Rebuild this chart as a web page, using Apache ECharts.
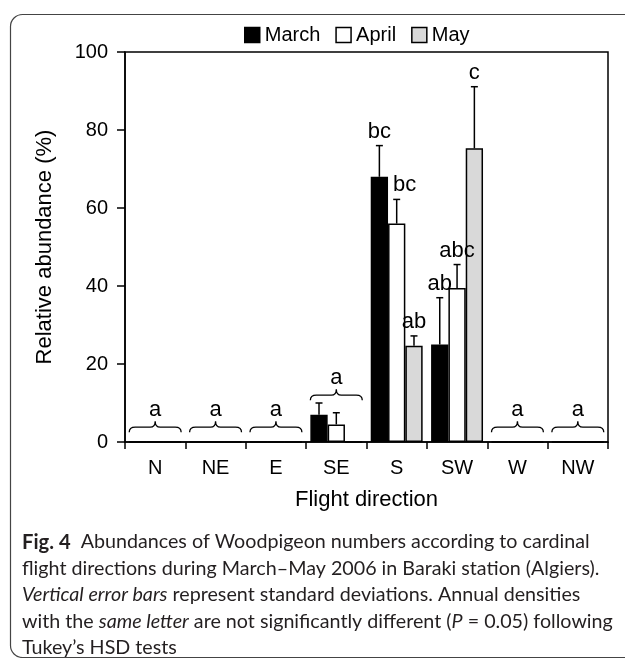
<!DOCTYPE html>
<html>
<head>
<meta charset="utf-8">
<script src="https://cdn.jsdelivr.net/npm/echarts@6/dist/echarts.min.js"></script>
<style>
html,body{margin:0;padding:0;background:#fff;}
#main{width:625px;height:658px;}
</style>
</head>
<body>
<div id="main"></div>
<script>
// ---- data ----
const categories = ['N', 'NE', 'E', 'SE', 'S', 'SW', 'W', 'NW'];
const seriesNames = ['March', 'April', 'May'];
const marchValues = [0, 0, 0, 7, 68, 25, 0, 0];
const aprilValues = [0, 0, 0, 4.5, 56, 39.5, 0, 0];
const mayValues = [0, 0, 0, 0, 24.7, 75.3, 0, 0];
const marchErr = [0, 0, 0, 3, 8, 12, 0, 0];
const aprilErr = [0, 0, 0, 3, 6.2, 6, 0, 0];
const mayErr = [0, 0, 0, 0, 2.5, 15.8, 0, 0];
const marchLetters = ['', '', '', '', 'bc', 'ab', '', ''];
const aprilLetters = ['', '', '', '', 'bc', 'abc', '', ''];
const mayLetters = ['', '', '', '', 'ab', 'c', '', ''];
const braceCategories = ['N', 'NE', 'E', 'SE', 'W', 'NW'];
const braceLevels = [3.8, 3.8, 3.8, 12, 3.8, 3.8];
const braceLetters = ['a', 'a', 'a', 'a', 'a', 'a'];
const yTicks = [0, 20, 40, 60, 80, 100];

// ---- styles ----
const FONT = '"Liberation Sans", Arial, sans-serif';
const CAPFONT = 'Lato, "Open Sans", sans-serif';
const fills = ['#000000', '#ffffff', '#d9d9d9'];
const CAT_GAP = 0.14;

const chart = echarts.init(document.getElementById('main'), null, {renderer: 'canvas'});

const values = [marchValues, aprilValues, mayValues];
const errs = [marchErr, aprilErr, mayErr];
const letters = [marchLetters, aprilLetters, mayLetters];

function errorSeries(si) {
  const data = categories.map((c, i) => [i, values[si][i], values[si][i] + errs[si][i]]);
  return {
    type: 'custom',
    name: seriesNames[si] + ' err',
    z: 5,
    silent: true,
    data: data,
    renderItem: function (params, api) {
      const idx = api.value(0);
      const v = api.value(1);
      const top = api.value(2);
      const letter = letters[si][idx];
      const catW = api.size([1, 0])[0];
      const barW = catW * (1 - CAT_GAP) / 3;
      const center = api.coord([idx, 0])[0] + (si - 1) * barW;
      const yBar = api.coord([idx, v])[1];
      const yTop = api.coord([idx, top])[1];
      const children = [];
      if (top > v) {
        children.push({type: 'line', shape: {x1: center, y1: yBar, x2: center, y2: yTop}, style: {stroke: '#000', lineWidth: 1.5}});
        children.push({type: 'line', shape: {x1: center - 3.5, y1: yTop, x2: center + 3.5, y2: yTop}, style: {stroke: '#000', lineWidth: 1.5}});
      }
      if (letter) {
        let dx = 0;
        if (si === 1 && idx === 4) dx = 8;
        children.push({type: 'text', style: {x: center + dx, y: yTop - 3, text: letter, fill: '#000', font: '22px ' + FONT, textAlign: 'center', textVerticalAlign: 'bottom'}});
      }
      return {type: 'group', children: children};
    }
  };
}

const braceSeries = {
  type: 'custom',
  name: 'braces',
  z: 5,
  silent: true,
  data: braceCategories.map((c, i) => [categories.indexOf(c), braceLevels[i]]),
  renderItem: function (params, api) {
    const idx = api.value(0);
    const lvl = api.value(1);
    const letter = braceLetters[params.dataIndex];
    const catW = api.size([1, 0])[0];
    const p = api.coord([idx, lvl]);
    const half = catW * 0.43;
    const x0 = p[0] - half, x1 = p[0] + half, y = p[1], xc = p[0];
    const d = 'M' + x0 + ' ' + (y + 5) +
      ' Q' + x0 + ' ' + y + ' ' + (x0 + 6) + ' ' + y +
      ' L' + (xc - 5) + ' ' + y +
      ' Q' + xc + ' ' + y + ' ' + xc + ' ' + (y - 6) +
      ' Q' + xc + ' ' + y + ' ' + (xc + 5) + ' ' + y +
      ' L' + (x1 - 6) + ' ' + y +
      ' Q' + x1 + ' ' + y + ' ' + x1 + ' ' + (y + 5);
    return {type: 'group', children: [
      {type: 'path', shape: {pathData: d}, style: {stroke: '#000', lineWidth: 1.3, fill: null}},
      {type: 'text', style: {x: xc, y: y - 6, text: letter, fill: '#000', font: '22px ' + FONT, textAlign: 'center', textVerticalAlign: 'bottom'}}
    ]};
  }
};

const barSeries = seriesNames.map((n, si) => ({
  type: 'bar',
  name: n,
  data: values[si],
  barGap: '0%',
  barCategoryGap: (CAT_GAP * 100) + '%',
  itemStyle: {color: fills[si], borderColor: '#000', borderWidth: 1.5},
  emphasis: {disabled: true}
}));

const CAPSIZE = 19.7;
const capStyle = {fontFamily: CAPFONT, fontSize: CAPSIZE, fill: '#231f20', verticalAlign: 'middle'};
const capRich = {
  b: {fontFamily: CAPFONT, fontSize: CAPSIZE + 0.5, fontWeight: 'bold', fill: '#231f20'},
  i: {fontFamily: CAPFONT, fontSize: CAPSIZE, fontStyle: 'italic', fill: '#231f20'}
};
const capLines = [
  '{b|Fig. 4}  Abundances of Woodpigeon numbers according to cardinal',
  'flight directions during March\u2013May 2006 in Baraki station (Algiers).',
  '{i|Vertical error bars} represent standard deviations. Annual densities',
  'with the {i|same letter} are not significantly different ({i|P} = 0.05) following',
  'Tukey\u2019s HSD tests'
];

const option = {
  animation: false,
  backgroundColor: '#fff',
  textStyle: {fontFamily: FONT},
  grid: {left: 125, right: 17, top: 52, bottom: 216, show: true, borderColor: '#000', borderWidth: 1.5, backgroundColor: 'transparent'},
  legend: {
    top: 25,
    left: 244,
    padding: 0,
    itemWidth: 15,
    itemHeight: 15,
    itemGap: 15,
    icon: 'rect',
    selectedMode: false,
    textStyle: {fontSize: 20, color: '#000', fontFamily: FONT},
    data: seriesNames.map((n, si) => ({name: n, itemStyle: {color: fills[si], borderColor: '#000', borderWidth: 1.5}}))
  },
  xAxis: {
    type: 'category',
    data: categories,
    name: 'Flight direction',
    nameLocation: 'middle',
    nameGap: 47,
    nameTextStyle: {fontSize: 22, color: '#000', fontFamily: FONT},
    axisLine: {lineStyle: {color: '#000', width: 1.5}},
    axisTick: {show: true, length: 7, lineStyle: {color: '#000', width: 1.5}, alignWithLabel: false},
    axisLabel: {fontSize: 20, color: '#000', margin: 16},
    splitLine: {show: false}
  },
  yAxis: {
    type: 'value',
    min: 0,
    max: 100,
    interval: 20,
    name: 'Relative abundance (%)',
    nameLocation: 'middle',
    nameGap: 69,
    nameRotate: 90,
    nameTextStyle: {fontSize: 22, color: '#000', fontFamily: FONT},
    axisLine: {show: true, lineStyle: {color: '#000', width: 1.5}},
    axisTick: {show: true, length: 8, inside: false, lineStyle: {color: '#000', width: 1.5}},
    axisLabel: {fontSize: 20, color: '#000', margin: 17, formatter: function (v) { return yTicks.indexOf(v) >= 0 ? String(v) : ''; }},
    splitLine: {show: false}
  },
  graphic: [
    {type: 'rect', left: 8, top: 12, shape: {width: 700, height: 643, r: 12}, style: {fill: null, stroke: '#444', lineWidth: 1.2}, z: -1, silent: true}
  ].concat(capLines.map((t, k) => ({
    type: 'text', x: 22, y: 542 + k * 26.5,
    style: Object.assign({text: t, rich: capRich}, capStyle)
  }))),
  series: [...barSeries, errorSeries(0), errorSeries(1), errorSeries(2), braceSeries]
};

chart.setOption(option);
</script>
</body>
</html>
